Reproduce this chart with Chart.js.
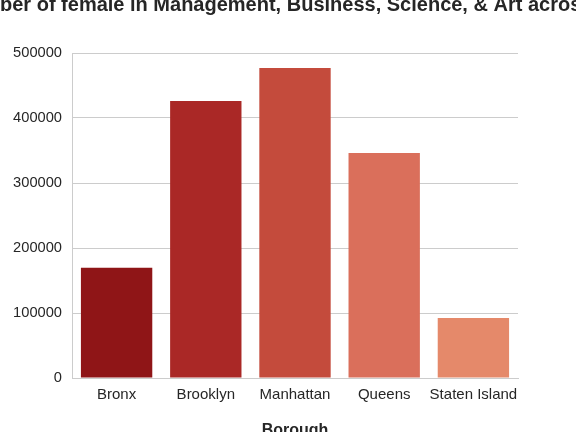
<!DOCTYPE html>
<html>
<head>
<meta charset="utf-8">
<script src="https://cdn.jsdelivr.net/npm/chart.js@4"></script>
<style>
  html, body { margin: 0; padding: 0; background: #fff; }
  #wrap { width: 576px; height: 432px; }
</style>
</head>
<body>
<div id="wrap"><canvas id="boroughChart" width="576" height="432"></canvas></div>
<script>
// ===== DATA =====
const BOROUGHS = ['Bronx', 'Brooklyn', 'Manhattan', 'Queens', 'Staten Island'];
const FEMALE_COUNTS = [169500, 426000, 477000, 346000, 92500];
const BAR_COLORS = ['#8f1517', '#aa2826', '#c44b3c', '#da6f5b', '#e5896a'];
const Y_TICKS = [0, 100000, 200000, 300000, 400000, 500000];
const TITLE = 'Number of female in Management, Business, Science, & Art across Boroughs';
const X_TITLE = 'Borough';

const TEXT = '#262626';
const GRID = '#cccccc';
const FONT = '"Liberation Sans", Arial, Helvetica, sans-serif';

// title + axis label drawn by hand so they can sit where the original clips them
const textPlugin = {
  id: 'textPlugin',
  afterDraw(chart) {
    const { ctx, chartArea } = chart;
    const cx = (chartArea.left + chartArea.right) / 2;
    ctx.save();
    ctx.fillStyle = TEXT;
    ctx.textBaseline = 'alphabetic';
    // title is wider than the canvas; original shows it starting mid-word at x=0
    ctx.font = 'bold 20px ' + FONT;
    ctx.textAlign = 'left';
    ctx.fillText(TITLE, -ctx.measureText('Num').width, 10.5);
    ctx.font = 'bold 16px ' + FONT;
    ctx.textAlign = 'center';
    ctx.fillText(X_TITLE, cx, 435);
    ctx.restore();
  },
};

new Chart(document.getElementById('boroughChart'), {
  type: 'bar',
  data: {
    labels: BOROUGHS,
    datasets: [{
      data: FEMALE_COUNTS,
      backgroundColor: BAR_COLORS,
      borderWidth: 0,
      categoryPercentage: 1.0,
      barPercentage: 0.8,
    }],
  },
  options: {
    responsive: false,
    animation: false,
    devicePixelRatio: 1,
    layout: { padding: { top: 53, right: 58, left: 0, bottom: 0 } },
    plugins: {
      legend: { display: false },
      tooltip: { enabled: false },
    },
    scales: {
      x: {
        grid: { display: false, drawTicks: false },
        border: { color: GRID, width: 1 },
        ticks: { color: TEXT, font: { family: FONT, size: 15 }, padding: 8, maxRotation: 0, autoSkip: false },
        afterFit: s => { s.height = 54; },
      },
      y: {
        min: 0, max: 500000,
        afterBuildTicks: s => { s.ticks = Y_TICKS.map(v => ({ value: v })); },
        grid: { color: GRID, lineWidth: 1, drawTicks: false },
        border: { color: GRID, width: 1 },
        ticks: { color: TEXT, font: { family: FONT, size: 14.67 }, padding: 10, callback: v => String(v) },
        afterFit: s => { s.width = 72; },
      },
    },
  },
  plugins: [textPlugin],
});
</script>
</body>
</html>
